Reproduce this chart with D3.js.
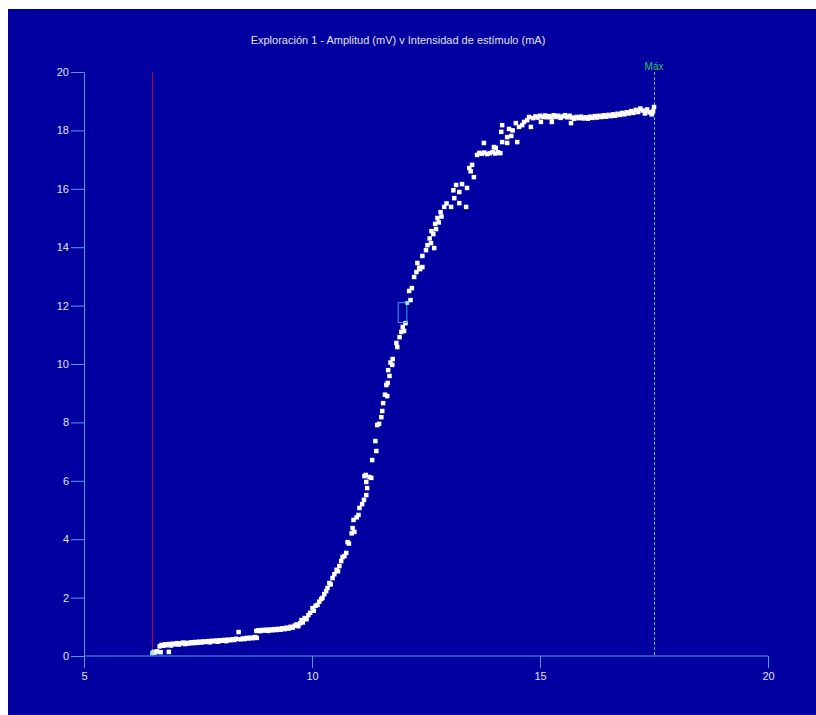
<!DOCTYPE html>
<html>
<head>
<meta charset="utf-8">
<script src="https://cdn.jsdelivr.net/npm/d3@7"></script>
<style>
  html, body { margin: 0; padding: 0; background: #0000a0; overflow: hidden; }
  text { font-family: "Liberation Sans", Arial, sans-serif; }
</style>
</head>
<body>
<div id="dataviz_scan"></div>
<script>

// ------------------------------------------------------------------------ //
// DATA  (stimulus intensity mA, amplitude mV)
// ------------------------------------------------------------------------ //

var titleText = "Exploración 1 - Amplitud (mV) v Intensidad de estímulo (mA)"
var xTicks = [5, 10, 15, 20]
var yTicks = [0, 2, 4, 6, 8, 10, 12, 14, 16, 18, 20]
var startLine = 6.5
var maxLine = 17.5
var maxLabel = "Máx"
var selBox = {x0: 11.89, x1: 12.08, y0: 11.42, y1: 12.10}
var selPoint = [12.09, 12.09]
var firstPoint = [6.50, 0.10]

var baseline = [
  [6.53,0.14],[6.56,0.12],[6.60,0.16],[6.68,0.13],[6.86,0.14],
  [6.66,0.33],[6.70,0.38],[6.74,0.35],[6.78,0.40],[6.82,0.37],[6.87,0.41],[6.91,0.36],[6.95,0.42],
  [7.00,0.40],[7.04,0.44],[7.08,0.39],[7.13,0.43],[7.17,0.46],[7.22,0.41],[7.26,0.45],[7.31,0.43],
  [7.35,0.47],[7.40,0.44],[7.44,0.48],[7.49,0.45],[7.53,0.49],[7.58,0.46],[7.62,0.50],[7.67,0.48],
  [7.71,0.51],[7.76,0.47],[7.80,0.52],[7.85,0.50],[7.89,0.53],[7.94,0.49],[7.98,0.54],[8.03,0.52],
  [8.07,0.55],[8.12,0.51],[8.16,0.56],[8.21,0.54],[8.25,0.57],[8.30,0.55],[8.34,0.59],[8.39,0.82],
  [8.43,0.57],[8.48,0.60],[8.52,0.58],[8.57,0.62],[8.61,0.60],[8.66,0.63],[8.70,0.61],[8.75,0.65],[8.79,0.62]
]

var step = [
  [8.78,0.86],[8.82,0.88],[8.86,0.85],[8.90,0.89],[8.95,0.87],[8.99,0.90],[9.04,0.86],[9.08,0.91],
  [9.13,0.88],[9.17,0.92],[9.22,0.89],[9.26,0.93],[9.31,0.90],[9.35,0.95],[9.40,0.92],[9.44,0.97],
  [9.49,0.94],[9.53,1.00],[9.58,0.97],[9.62,1.04],[9.66,1.08],[9.70,1.02],[9.74,1.12]
]

var rise = [
  [9.77,1.23],[9.80,1.15],[9.84,1.30],[9.88,1.26],[9.92,1.40],[9.96,1.48],[10.01,1.64],[10.04,1.55],
  [10.08,1.72],[10.12,1.75],[10.16,1.86],[10.20,1.95],[10.23,1.99],[10.27,2.12],[10.31,2.22],[10.34,2.33],
  [10.38,2.50],[10.41,2.45],[10.45,2.67],[10.49,2.80],[10.54,2.95],[10.57,2.90],[10.60,3.08],[10.64,3.25],
  [10.67,3.39],[10.71,3.42],[10.75,3.53],[10.78,3.90],[10.81,3.85],[10.87,4.20],[10.89,4.38],[10.91,4.66],
  [10.93,4.25],[10.98,4.75],[11.02,4.83],[11.04,5.07],[11.10,5.20],[11.14,5.35],[11.19,5.51],[11.21,5.75],
  [11.19,5.96],[11.15,6.16],[11.26,6.13],[11.30,6.10],[11.18,6.20],[11.32,6.71],[11.41,7.02],[11.39,7.36],
  [11.43,7.91],[11.47,7.95],[11.52,8.18],[11.54,8.39],[11.56,8.66],[11.65,8.90],[11.60,8.95],[11.63,9.28],
  [11.66,9.35],[11.70,9.59],[11.67,9.79],[11.76,9.97],[11.72,10.05],[11.77,10.17],[11.87,10.58],[11.85,10.72],
  [11.92,10.92],[11.96,11.10],[12.02,11.13],[11.99,11.27],[12.05,11.40],[12.16,12.19],[12.13,12.50],
  [12.19,12.60],[12.24,12.98],[12.29,13.15],[12.37,13.25],[12.42,13.32],[12.31,13.46],[12.35,13.30],
  [12.42,13.70],[12.50,13.90],[12.53,14.07],[12.61,14.14],[12.68,13.97]
]

var shoulder = [
  [12.58,14.30],[12.66,14.45],[12.62,14.55],[12.72,14.62],[12.70,14.80],[12.78,14.85],[12.75,15.00],
  [12.84,15.05],[12.82,15.20],[12.90,15.38],[13.05,15.38],[12.95,15.50],[13.12,15.68],[13.23,15.51],
  [13.38,15.38],[13.16,16.13],[13.29,16.16],[13.40,16.03],[13.23,15.89],[13.10,15.95],[13.55,16.40],
  [13.45,16.71],[13.51,16.82],[13.48,16.60],[13.62,17.16],[13.67,17.23],[13.72,17.20],[13.78,17.24],
  [13.84,17.19],[13.90,17.22],[13.96,17.26],[14.02,17.21],[14.08,17.25],[14.13,17.22],[13.77,17.57],
  [13.99,17.43],[14.03,17.40],[14.17,17.60],[14.28,17.57],[14.28,17.77],[14.37,17.81],[14.50,17.60],
  [14.15,17.95],[14.32,18.05],[14.17,18.18],[14.40,18.00],[14.47,18.25],[14.54,18.12],[14.61,18.18],
  [14.65,18.29],[14.76,18.46],[14.80,18.12],[14.72,18.35],[14.85,18.42]
]

var plateau = [
  [14.90,18.48],[14.95,18.44],[15.00,18.50],[15.02,18.29],[15.06,18.46],[15.11,18.51],[15.15,18.45],
  [15.20,18.49],[15.26,18.29],[15.25,18.44],[15.30,18.52],[15.35,18.46],[15.40,18.50],[15.45,18.43],
  [15.50,18.48],[15.55,18.52],[15.60,18.45],[15.65,18.50],[15.68,18.25],[15.70,18.44],[15.75,18.40],
  [15.80,18.46],[15.85,18.42],[15.90,18.47],[15.95,18.41],[16.00,18.45],[16.05,18.40],[16.10,18.47],
  [16.15,18.43],[16.20,18.49],[16.25,18.44],[16.30,18.50],[16.35,18.46],[16.40,18.52],[16.45,18.47],
  [16.50,18.53],[16.55,18.49],[16.60,18.55],[16.65,18.50],[16.70,18.57],[16.75,18.53],[16.80,18.60],
  [16.85,18.55],[16.90,18.62],[16.95,18.58],[17.00,18.66],[17.05,18.60],[17.10,18.70],[17.15,18.63],
  [17.20,18.75],[17.25,18.68],[17.30,18.58],[17.35,18.72],[17.40,18.62],[17.45,18.55],[17.48,18.66],
  [17.50,18.80]
]

var allPoints = baseline.concat(step, rise, shoulder, plateau)


// ------------------------------------------------------------------------ //
// SVG AREA
// ------------------------------------------------------------------------ //

var W = 816, H = 715
var axisColor = "#4a9ef2"
var labelColor = "#e2e2ea"
var ptSize = 4.5

var svg = d3.select("#dataviz_scan")
  .append("svg")
    .attr("width", W)
    .attr("height", H)
    .style("display", "block")

// dark blue panel with a thin white margin on top and left
svg.append("rect")
  .attr("x", 0).attr("y", 0)
  .attr("width", W).attr("height", H)
  .attr("fill", "#0000a0")
svg.append("rect")
  .attr("x", 0).attr("y", 0)
  .attr("width", W).attr("height", 9)
  .attr("fill", "#ffffff")
svg.append("rect")
  .attr("x", 0).attr("y", 0)
  .attr("width", 8).attr("height", H)
  .attr("fill", "#ffffff")

// scales
var x = d3.scaleLinear().domain([5, 20]).range([84, 768])
var y = d3.scaleLinear().domain([0, 20]).range([656, 72])


// ------------------------------------------------------------------------ //
// AXES
// ------------------------------------------------------------------------ //

var xAxis = svg.append("g")
  .attr("transform", "translate(0," + y(0) + ")")
  .call(d3.axisBottom(x).tickValues(xTicks).tickSize(12).tickPadding(4).tickFormat(d3.format("d")))

var yAxis = svg.append("g")
  .attr("transform", "translate(" + x(5) + ",0)")
  .call(d3.axisLeft(y).tickValues(yTicks).tickSize(13).tickPadding(2).tickSizeOuter(0).tickFormat(d3.format("d")))

xAxis.select(".domain").attr("d", "M" + x(5) + ",0H" + x(20))

svg.selectAll(".domain, .tick line")
  .attr("stroke", axisColor)
  .attr("stroke-width", 1)

svg.selectAll(".tick text")
  .attr("fill", labelColor)
  .attr("font-size", "11px")
  .attr("font-family", "Liberation Sans, Arial, sans-serif")


// ------------------------------------------------------------------------ //
// ANNOTATION
// ------------------------------------------------------------------------ //

svg.append("text")
  .attr("x", 398)
  .attr("y", 44)
  .attr("text-anchor", "middle")
  .attr("fill", labelColor)
  .attr("font-size", "11px")
  .text(titleText)

// start marker (red)
svg.append("line")
  .attr("x1", x(startLine)).attr("x2", x(startLine))
  .attr("y1", y(20)).attr("y2", y(0))
  .attr("stroke", "#b3123c")
  .attr("stroke-width", 1)

// max marker (green dashed)
svg.append("line")
  .attr("x1", x(maxLine) + 0.5).attr("x2", x(maxLine) + 0.5)
  .attr("y1", y(20)).attr("y2", y(0))
  .attr("stroke", "#58c8a8")
  .attr("stroke-width", 1)
  .attr("stroke-dasharray", "3,2")

svg.append("text")
  .attr("x", x(maxLine))
  .attr("y", 70)
  .attr("text-anchor", "middle")
  .attr("fill", "#2fc060")
  .attr("font-size", "10px")
  .text(maxLabel)


// ------------------------------------------------------------------------ //
// POINTS
// ------------------------------------------------------------------------ //

svg.selectAll(".pt")
  .data(allPoints)
  .enter()
  .append("rect")
    .attr("class", "pt")
    .attr("x", function(d) { return x(d[0]) - ptSize / 2 })
    .attr("y", function(d) { return y(d[1]) - ptSize / 2 })
    .attr("width", ptSize)
    .attr("height", ptSize)
    .attr("fill", "#ffffff")

// first point (light cyan)
svg.append("rect")
  .attr("x", x(firstPoint[0]) - ptSize / 2)
  .attr("y", y(firstPoint[1]) - ptSize / 2)
  .attr("width", ptSize)
  .attr("height", ptSize)
  .attr("fill", "#a8e8f0")

// selection box + selected point
svg.append("rect")
  .attr("x", x(selBox.x0))
  .attr("y", y(selBox.y1))
  .attr("width", x(selBox.x1) - x(selBox.x0))
  .attr("height", y(selBox.y0) - y(selBox.y1))
  .attr("fill", "none")
  .attr("stroke", "#3fa0f0")
  .attr("stroke-width", 1)

svg.append("rect")
  .attr("x", x(selPoint[0]) - 2)
  .attr("y", y(selPoint[1]) - 2)
  .attr("width", 4)
  .attr("height", 4)
  .attr("fill", "#9fe0e0")

</script>
</body>
</html>
